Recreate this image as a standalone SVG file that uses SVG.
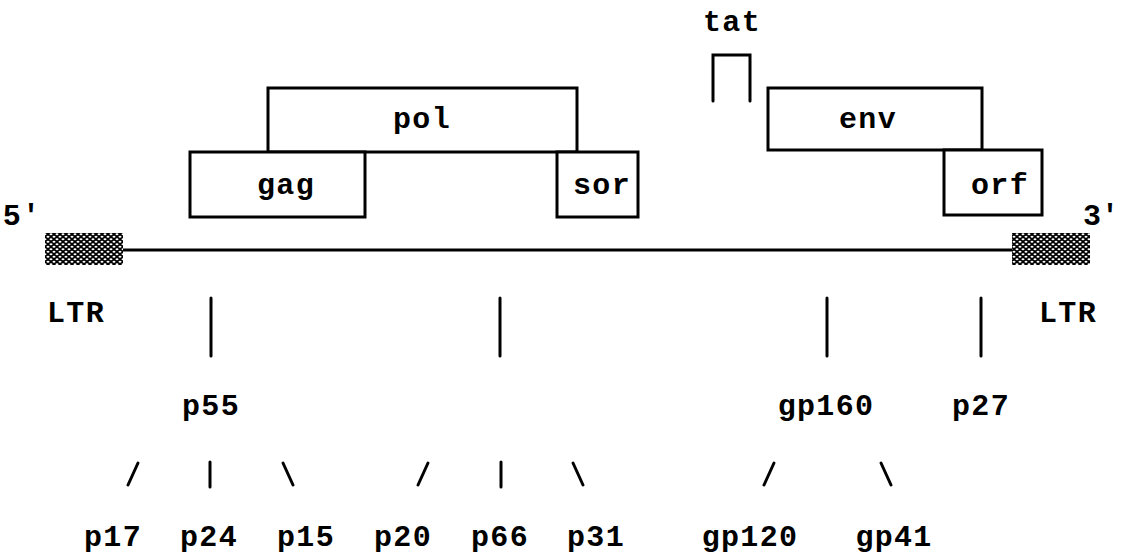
<svg xmlns="http://www.w3.org/2000/svg" width="1122" height="554" viewBox="0 0 1122 554">
  <style>
    text { font-family: "Liberation Mono", "DejaVu Sans Mono", monospace; font-weight: bold; font-size: 30px; letter-spacing: 1.3px; fill: #000; text-anchor: middle; }
    .box { fill: #fff; stroke: #000; stroke-width: 3; stroke-linejoin: miter; }
    .ln { stroke: #000; stroke-width: 3; stroke-linecap: round; fill: none; }
    .ltr { fill: url(#dots); }
  </style>
  <defs>
    <!-- halftone stipple for the long terminal repeats -->
    <pattern id="dots" x="45" y="233" width="6" height="5" patternUnits="userSpaceOnUse">
      <rect width="6" height="5" fill="#000"/>
      <ellipse cx="0" cy="1.25" rx="1.5" ry="0.9" fill="#fff"/>
      <ellipse cx="6" cy="1.25" rx="1.5" ry="0.9" fill="#fff"/>
      <ellipse cx="3" cy="3.75" rx="1.5" ry="0.9" fill="#fff"/>
    </pattern>
  </defs>
  <rect width="1122" height="554" fill="#fff"/>

  <g id="connectors">
    <!-- genome backbone -->
    <line class="ln" x1="120" y1="250" x2="1014" y2="250" stroke-linecap="butt"/>
    <!-- precursor ticks -->
    <line class="ln" x1="211" y1="298" x2="211" y2="356"/>
    <line class="ln" x1="500" y1="298" x2="500" y2="356"/>
    <line class="ln" x1="827" y1="298" x2="827" y2="356"/>
    <line class="ln" x1="981" y1="298" x2="981" y2="356"/>
    <!-- cleavage product ticks -->
    <line class="ln" x1="128" y1="485" x2="138" y2="463"/>
    <line class="ln" x1="210" y1="462" x2="210" y2="487"/>
    <line class="ln" x1="283" y1="463" x2="293" y2="485"/>
    <line class="ln" x1="418" y1="485" x2="428" y2="463"/>
    <line class="ln" x1="501" y1="462" x2="501" y2="487"/>
    <line class="ln" x1="573" y1="463" x2="583" y2="485"/>
    <line class="ln" x1="764" y1="485" x2="774" y2="463"/>
    <line class="ln" x1="881" y1="463" x2="891" y2="485"/>
  </g>

  <g id="ltr-left">
    <rect class="ltr" x="45" y="233" width="78" height="32"/>
    <text x="22" y="225">5'</text>
    <text x="76" y="322">LTR</text>
  </g>
  <g id="ltr-right">
    <rect class="ltr" x="1012" y="233" width="78" height="32"/>
    <text x="1101" y="225" style="letter-spacing:0">3'</text>
    <text x="1068" y="322">LTR</text>
  </g>

  <g id="pol">
    <rect class="box" x="268" y="88" width="309" height="64"/>
    <text x="422" y="128">pol</text>
  </g>
  <g id="gag">
    <rect class="box" x="190" y="152" width="175" height="65"/>
    <text x="286" y="194">gag</text>
  </g>
  <g id="sor">
    <rect class="box" x="557" y="152" width="81" height="65"/>
    <text x="602" y="194">sor</text>
  </g>
  <g id="tat">
    <path class="ln" d="M713 101 V55 H750 V101" stroke-linecap="butt"/>
    <text x="732" y="31">tat</text>
  </g>
  <g id="env">
    <rect class="box" x="768" y="88" width="214" height="62"/>
    <text x="868" y="128">env</text>
  </g>
  <g id="orf">
    <rect class="box" x="944" y="150" width="98" height="65"/>
    <text x="1000" y="194">orf</text>
  </g>

  <g id="p55"><text x="211" y="415">p55</text></g>
  <g id="gp160"><text x="826" y="415">gp160</text></g>
  <g id="p27"><text x="981" y="415">p27</text></g>

  <g id="p17"><text x="113" y="546">p17</text></g>
  <g id="p24"><text x="209" y="546">p24</text></g>
  <g id="p15"><text x="306" y="546">p15</text></g>
  <g id="p20"><text x="403" y="546">p20</text></g>
  <g id="p66"><text x="500" y="546">p66</text></g>
  <g id="p31"><text x="596" y="546">p31</text></g>
  <g id="gp120"><text x="750" y="546">gp120</text></g>
  <g id="gp41"><text x="894" y="546">gp41</text></g>
</svg>
